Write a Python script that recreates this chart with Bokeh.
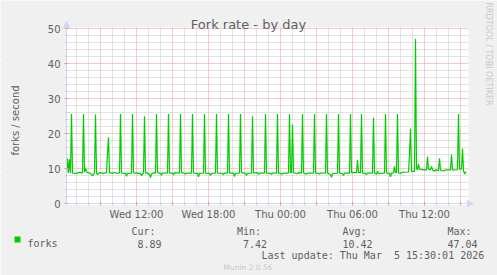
import math
from bokeh.plotting import figure
from bokeh.models import Range1d, FixedTicker, Label, Arrow, NormalHead, BoxAnnotation
from bokeh.embed import file_html
from bokeh.resources import INLINE

# ---------------- data ----------------
title_text = "Fork rate - by day"
y_label = "forks / second"
series_name = "forks"

# minutes after Wed 00:00 (5-minute samples) and fork rate
minutes = [370, 375, 380, 385, 390, 395, 400, 420, 435, 450, 455, 460, 465, 470, 475,
           490, 500, 505, 510, 515, 520, 525, 535, 555, 570, 575, 580, 585, 600, 605,
           620, 635, 640, 645, 665, 670, 675, 695, 700, 705, 715, 720, 725, 740, 745,
           750, 755, 760, 765, 775, 780, 785, 790, 795, 800, 805, 815, 820, 825, 840,
           845, 850, 875, 880, 885, 900, 905, 910, 935, 940, 945, 960, 965, 970, 995,
           1000, 1005, 1025, 1030, 1035, 1055, 1060, 1065, 1085, 1090, 1095, 1115, 1120,
           1125, 1150, 1155, 1160, 1175, 1180, 1185, 1205, 1210, 1215, 1235, 1240, 1245,
           1265, 1270, 1275, 1295, 1300, 1305, 1325, 1330, 1335, 1360, 1365, 1370, 1390,
           1395, 1400, 1420, 1425, 1430, 1450, 1455, 1480, 1485, 1490, 1495, 1500, 1505,
           1525, 1530, 1545, 1550, 1555, 1570, 1575, 1605, 1610, 1615, 1630, 1635, 1640,
           1665, 1670, 1675, 1690, 1695, 1700, 1725, 1730, 1735, 1750, 1755, 1760, 1785,
           1790, 1795, 1820, 1825, 1830, 1840, 1845, 1850, 1865, 1870, 1875, 1900, 1905,
           1910, 1920, 1925, 1930, 1960, 1965, 1970, 1985, 1990, 1995, 2005, 2010, 2015,
           2020, 2025, 2030, 2040, 2045, 2080, 2085, 2090, 2095, 2110, 2115, 2120, 2125,
           2130, 2135, 2155, 2170, 2175, 2180, 2190, 2195, 2200, 2210, 2215, 2230, 2235,
           2240, 2260, 2265, 2290, 2295, 2300, 2325, 2330, 2335, 2345, 2350, 2355, 2360,
           2365, 2370]
forks = [8.7, 12.9, 8.7, 12.6, 8.7, 25.6, 8.7, 8.6, 8.9, 8.7, 25.6, 8.9, 10.0, 9.2, 8.8,
         8.6, 7.9, 8.4, 8.7, 25.4, 8.7, 8.3, 8.8, 8.6, 8.8, 14.5, 18.9, 8.8, 8.6, 8.9,
         8.7, 8.7, 25.6, 8.7, 8.6, 7.8, 8.6, 8.7, 25.6, 8.8, 8.6, 8.9, 8.6, 8.6, 7.9,
         8.6, 8.7, 24.9, 8.7, 8.8, 8.3, 8.4, 7.42, 8.4, 8.6, 8.8, 8.7, 25.6, 8.8, 8.6,
         8.1, 8.7, 8.7, 25.6, 8.7, 8.7, 8.2, 8.8, 8.7, 25.6, 8.8, 8.6, 8.4, 8.7, 8.7,
         25.6, 8.7, 8.6, 7.6, 8.6, 8.7, 25.6, 8.7, 8.6, 8.0, 8.6, 8.7, 25.6,
         8.7, 8.6, 8.2, 8.7, 8.7, 25.6, 8.7, 8.7, 7.7, 8.6, 8.7, 25.6, 8.8,
         8.6, 8.0, 8.6, 8.7, 24.9, 8.7, 8.8, 8.3, 8.7, 8.7, 25.6, 8.7, 8.6,
         8.3, 8.7, 8.7, 25.6, 8.7, 8.4, 8.7, 8.7, 25.6, 8.8, 8.8, 22.6, 8.8,
         8.5, 8.8, 8.7, 25.6, 8.7, 8.4, 8.7, 8.7, 25.6, 8.7, 8.6, 8.4, 8.7,
         8.7, 25.6, 8.7, 8.3, 7.5, 8.5, 8.7, 25.6, 8.7, 8.5, 8.0, 8.7, 8.7,
         25.6, 8.8, 8.8, 12.5, 8.8, 8.8, 25.6, 8.7, 8.6, 8.2, 8.7, 8.7, 24.5,
         8.7, 8.4, 9.2, 8.5, 8.7, 25.6, 8.7, 8.6, 7.6, 8.7, 8.8, 10.6, 8.8,
         8.8, 25.6, 8.8, 8.5, 8.9, 9.0, 14.0, 21.4, 9.2, 9.2, 47.04, 10.0, 9.6,
         11.3, 9.8, 9.6, 9.6, 13.4, 9.8, 9.7, 10.6, 9.7, 9.2, 9.6, 9.4, 12.9,
         9.5, 9.3, 9.6, 9.6, 14.0, 9.6, 9.7, 25.6, 9.8, 9.8, 15.7, 9.5, 8.4,
         8.9, 8.89]

x_tick_minutes = [720, 1080, 1440, 1800, 2160]
x_tick_labels = ["Wed 12:00", "Wed 18:00", "Thu 00:00", "Thu 06:00", "Thu 12:00"]
y_ticks = [0, 10, 20, 30, 40, 50]

stat_names = ["Cur:", "Min:", "Avg:", "Max:"]
stat_values = [8.89, 7.42, 10.42, 47.04]
# the second space is a no-break space so that the SVG keeps the double gap
last_update = "Last update: Thu Mar \u00a05 15:30:01 2026"
credit_munin = "Munin 2.0.56"
credit_rrd = "RRDTOOL / TOBI OETIKER"

t_start, t_end = 370, 2370
y_min, y_max = 0, 50

# ---------------- layout / style ----------------
CW, CH = 497, 275          # canvas
L, T, W, H = 66, 28, 400, 175   # plot area in pixels
BG = "#F0F0F0"
AXIS = "#CFD6F8"
MGRID = "#E59A9A"
GRID = "#C8C8C8"
FONT = "#606060"
LINE = "#00CC00"
SANS = "DejaVu Sans"
MONO = "DejaVu Sans Mono"


def X(px):
    return t_start + (px - L) * (t_end - t_start) / W


def Y(py):
    return (T + H - py) * (y_max - y_min) / H


# the frame covers the whole canvas; axes sit at fixed data locations
p = figure(width=CW, height=CH, output_backend="svg", toolbar_location=None,
           title=None, x_range=Range1d(X(0), X(CW)), y_range=Range1d(Y(CH), Y(0)),
           min_border=0, background_fill_color="white", border_fill_color=BG,
           outline_line_color=None)

major_x = list(range(540, t_end + 1, 180))
minor_x = [m for m in range(420, t_end + 1, 60) if m % 180 != 0]
p.xaxis.ticker = FixedTicker(ticks=major_x, minor_ticks=minor_x)
overrides = {m: "" for m in major_x}
for m, lab in zip(x_tick_minutes, x_tick_labels):
    overrides[m] = lab
p.xaxis.major_label_overrides = overrides
p.xaxis.fixed_location = y_min
p.xaxis.bounds = (t_start, t_end)

p.yaxis.ticker = FixedTicker(ticks=y_ticks,
                             minor_ticks=[v for v in range(2, 50, 2) if v % 10 != 0])
p.yaxis.fixed_location = t_start
p.yaxis.bounds = (y_min, y_max)

for ax in (p.xaxis[0], p.yaxis[0]):
    ax.axis_line_color = AXIS
    ax.major_tick_line_color = MGRID
    ax.major_tick_in = 2
    ax.major_tick_out = 2
    ax.minor_tick_line_color = GRID
    ax.minor_tick_in = 1
    ax.minor_tick_out = 1
    ax.major_label_text_font = SANS
    ax.major_label_text_font_size = "10px"
    ax.major_label_text_color = FONT
p.xaxis.major_label_standoff = 3
p.yaxis.major_label_standoff = 4

for g in (p.xgrid[0], p.ygrid[0]):
    g.grid_line_color = MGRID
    g.grid_line_dash = "1 1"
    g.minor_grid_line_color = GRID
    g.minor_grid_line_dash = "1 1"

# grey surround of the white canvas (hides grid lines outside it)
for kw in (dict(bottom=Y(27)), dict(top=Y(204.5)), dict(right=X(65.5)), dict(left=X(468))):
    p.add_layout(BoxAnnotation(fill_color=BG, fill_alpha=1.0, line_color=None,
                               level="underlay", **kw))

p.line(minutes, forks, line_color=LINE, line_width=1.2)

# axis arrows
p.add_layout(Arrow(end=NormalHead(size=6, fill_color=AXIS, line_color=AXIS),
                   x_start=t_end, y_start=y_min, x_end=X(473), y_end=y_min,
                   line_color=AXIS, line_width=1))
p.add_layout(Arrow(end=NormalHead(size=6, fill_color=AXIS, line_color=AXIS),
                   x_start=t_start, y_start=y_max, x_end=t_start, y_end=Y(21),
                   line_color=AXIS, line_width=1))

# texts
p.add_layout(Label(x=X(248), y=Y(24), text=title_text, text_font=SANS,
                   text_font_size="13px", text_color=FONT, text_align="center",
                   text_baseline="alphabetic"))
p.add_layout(Label(x=X(14.5), y=Y(120), text=y_label, text_font=SANS,
                   text_font_size="10px", text_color=FONT, text_align="center",
                   text_baseline="alphabetic", angle=math.pi / 2))
p.add_layout(Label(x=X(487.5), y=Y(53.5), text=credit_rrd, text_font=SANS,
                   text_font_size="8px", text_color="#C8C8C8", text_align="center",
                   text_baseline="middle", angle=-math.pi / 2))

# legend
p.add_layout(BoxAnnotation(left=X(14), right=X(20), top=Y(236), bottom=Y(242),
                           fill_color=LINE, fill_alpha=1.0, line_color=None))
p.add_layout(Label(x=X(27), y=Y(243), text=series_name, text_font=MONO,
                   text_font_size="10px", text_color=FONT, text_baseline="alphabetic"))
cols = [131, 236.5, 342, 447]
for c, name, val in zip(cols, stat_names, stat_values):
    p.add_layout(Label(x=X(c), y=Y(231), text=name, text_font=MONO,
                       text_font_size="10px", text_color=FONT, text_baseline="alphabetic"))
    p.add_layout(Label(x=X(c + 30), y=Y(243), text="%.2f" % val, text_font=MONO,
                       text_font_size="10px", text_color=FONT, text_align="right",
                       text_baseline="alphabetic"))
p.add_layout(Label(x=X(261), y=Y(255), text=last_update, text_font=MONO,
                   text_font_size="10px", text_color=FONT, text_baseline="alphabetic"))
p.add_layout(Label(x=X(223), y=Y(267), text=credit_munin, text_font=SANS,
                   text_font_size="7.5px", text_color="#C8C8C8", text_baseline="alphabetic"))

open("out.html", "w").write(file_html(p, INLINE))
